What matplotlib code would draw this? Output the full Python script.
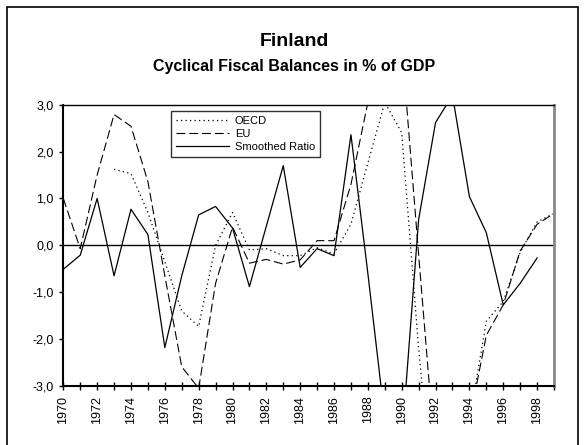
import numpy as np
import matplotlib
matplotlib.use("Agg")
import matplotlib.pyplot as plt
from matplotlib.ticker import FuncFormatter, MultipleLocator
from matplotlib.patches import Rectangle

plt.rcParams['font.family'] = ['Liberation Sans', 'DejaVu Sans']

years = list(range(1970, 2000))
nan = np.nan

oecd = [nan, nan, nan, 1.62, 1.53, 0.70, -0.35, -1.40, -1.73, 0.00,
        0.70, -0.10, -0.07, -0.22, -0.22, -0.05, -0.18, 0.45, 1.76, 3.05,
        2.40, -2.20, -6.00, -6.00, -3.75, -1.62, -1.20, -0.15, 0.50, 0.68]

eu = [1.00, -0.07, 1.50, 2.79, 2.54, 1.36, -0.65, -2.59, -3.05, -0.81,
      0.39, -0.38, -0.30, -0.40, -0.31, 0.10, 0.10, 1.30, 3.05, 4.00,
      4.30, -0.20, -4.60, -5.00, -3.75, -1.92, -1.27, -0.12, 0.45, 0.68]

smoothed = [-0.51, -0.21, 1.00, -0.65, 0.77, 0.23, -2.18, -0.65, 0.65, 0.83,
            0.37, -0.88, 0.41, 1.70, -0.47, -0.07, -0.22, 2.36, -0.60, -3.70,
            -4.20, 0.55, 2.62, 3.20, 1.04, 0.27, -1.27, -0.81, -0.27, nan]

series_labels = ["OECD", "EU", "Smoothed Ratio"]
title = "Finland"
subtitle = "Cyclical Fiscal Balances in % of GDP"
xtick_labels = [str(y) for y in range(1970, 1999, 2)]

fig = plt.figure(figsize=(5.85, 4.45), dpi=100)
ax = fig.add_axes([63.3 / 585, 1 - 386 / 445, (554 - 63.3) / 585, (386 - 104.7) / 445])

# outer border
fig.patches.append(Rectangle((7 / 585, -0.05), (578 - 7) / 585, 1 - 7 / 445 + 0.05,
                             transform=fig.transFigure, fill=False,
                             edgecolor='black', linewidth=1.2))

ax.plot(years, oecd, color='black', lw=0.9, linestyle=(0, (1, 2.6)), label=series_labels[0])
ax.plot(years, eu, color='black', lw=0.8, linestyle=(0, (8, 3.5)), label=series_labels[1])
ax.plot(years, smoothed, color='black', lw=0.9, linestyle='-', label=series_labels[2])

ax.axhline(0, color='black', lw=1.0)

ax.set_xlim(1970, 1999)
ax.set_ylim(-3, 3)

ax.set_xticks(list(range(1970, 1999, 2)))
ax.set_xticklabels(xtick_labels, rotation=90)
ax.xaxis.set_minor_locator(MultipleLocator(1))
ax.tick_params(axis='x', which='both', direction='inout', length=6, width=1.0,
               labelsize=9, pad=4)
ax.yaxis.set_major_locator(MultipleLocator(1))
ax.yaxis.set_major_formatter(FuncFormatter(lambda v, p: f"{v:.1f}".replace('.', ',')))
ax.tick_params(axis='y', which='both', direction='out', length=3, width=1.0,
               labelsize=9, pad=4)

for side in ['left', 'bottom']:
    ax.spines[side].set_linewidth(1.5)
    ax.spines[side].set_color('black')
ax.spines['top'].set_linewidth(1.0)
ax.spines['top'].set_color('black')
ax.spines['right'].set_linewidth(2.0)
ax.spines['right'].set_color('#888888')

leg = ax.legend(loc='upper left', bbox_to_anchor=(0.219, 0.979), fontsize=8,
                frameon=True, fancybox=False, shadow=False, borderaxespad=0,
                handlelength=4.8, handletextpad=0.5, labelspacing=0.3,
                borderpad=0.45)
leg.get_frame().set_edgecolor('black')
leg.get_frame().set_linewidth(1.0)

fig.text(0.503, 1 - 42 / 445, title, ha='center', va='center',
         fontsize=14, fontweight='bold')
fig.text(0.503, 1 - 67 / 445, subtitle, ha='center', va='center',
         fontsize=11.5, fontweight='bold')

fig.savefig('out.png', dpi=100)
